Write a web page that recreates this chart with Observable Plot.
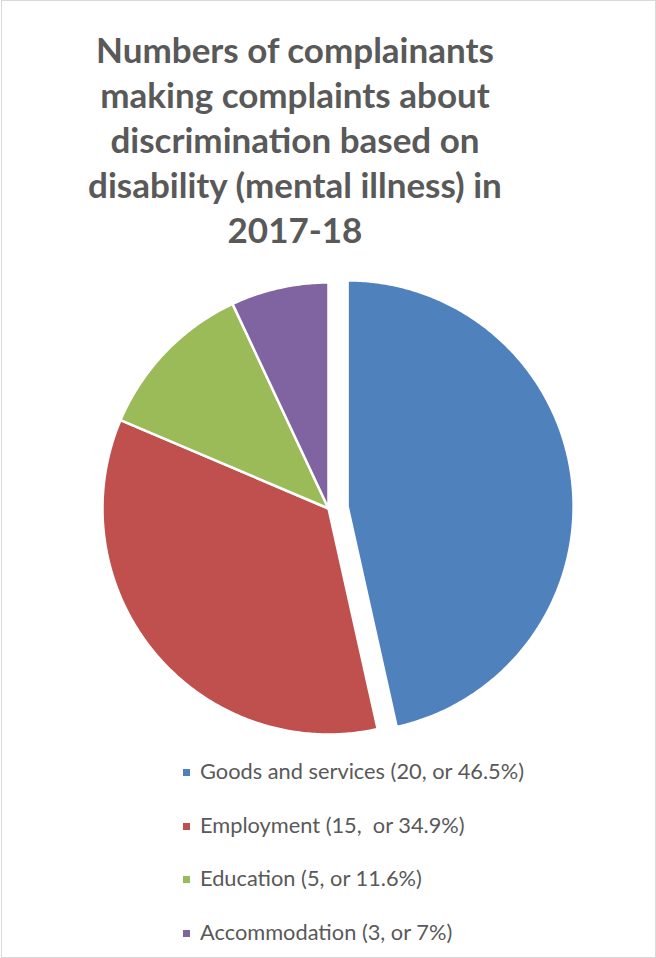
<!DOCTYPE html>
<html>
<head>
<meta charset="utf-8">
<script src="https://cdn.jsdelivr.net/npm/d3@7"></script>
<script src="https://cdn.jsdelivr.net/npm/@observablehq/plot@0.6"></script>
<style>
  html, body { margin: 0; padding: 0; background: #fff; }
  #frame { position: absolute; left: 1px; top: 0px; width: 653px; height: 956px; border: 1px solid #d9d9d9; }
  #title { position: absolute; left: 0; top: 27px; width: 590px; text-align: center;
    font-family: Lato, "Open Sans", sans-serif; font-weight: bold; font-size: 35px; line-height: 45px; color: #595959; }
  #chart { position: absolute; left: 0; top: 270px; }
  #legend { position: absolute; left: 183px; top: 757px; font-family: Lato, "Open Sans", sans-serif; font-size: 21.8px; color: #595959; }
  .item { height: 53.5px; display: flex; align-items: flex-start; white-space: pre; line-height: 28px; }
  .sw { width: 7px; height: 7px; margin-right: 10px; margin-top: 12px; flex: none; }
</style>
</head>
<body>
<div id="frame"></div>
<div id="title"></div>
<div id="chart"></div>
<div id="legend"></div>
<script>
const titleLines = ["Numbers of complainants", "making complaints about", "discrimination based on", "disability (mental illness) in", "2017-18"];
const categories = ["Goods and services", "Employment", "Education", "Accommodation"];
const counts = [20, 15, 5, 3];
const legendLabels = ["Goods and services (20, or 46.5%)", "Employment (15,  or 34.9%)", "Education (5, or 11.6%)", "Accommodation (3, or 7%)"];
const colors = ["#4f81bd", "#c0504d", "#9bbb59", "#8064a2"];
const explode = [0.085, 0, 0, 0];

document.getElementById("title").innerHTML = titleLines.join("<br>");

const arcs = d3.pie().sort(null)(counts);
const pts = [];
arcs.forEach((a, i) => {
  const mid = (a.startAngle + a.endAngle) / 2;
  const ox = explode[i] * Math.sin(mid), oy = explode[i] * Math.cos(mid);
  const name = categories[i];
  pts.push({name, x: ox, y: oy});
  const n = Math.max(8, Math.ceil((a.endAngle - a.startAngle) / 0.01));
  for (let k = 0; k <= n; k++) {
    const t = a.startAngle + (a.endAngle - a.startAngle) * k / n;
    pts.push({name, x: ox + Math.sin(t), y: oy + Math.cos(t)});
  }
  pts.push({name, x: ox, y: oy});
});

const W = 656, H = 480, R = 226, cx = 328, cy = 238;
const chart = Plot.plot({
  width: W, height: H, margin: 0,
  x: {domain: [-cx / R, (W - cx) / R], axis: null},
  y: {domain: [-(H - cy) / R, cy / R], axis: null},
  color: {domain: categories, range: colors},
  marks: [
    Plot.line(pts, {x: "x", y: "y", z: "name", fill: "name", stroke: "white", strokeWidth: 2.5, strokeLinejoin: "round", curve: "linear"})
  ]
});
document.getElementById("chart").appendChild(chart);

const legend = document.getElementById("legend");
legendLabels.forEach((lab, i) => {
  const row = document.createElement("div");
  row.className = "item";
  const sw = document.createElement("span");
  sw.className = "sw"; sw.style.background = colors[i];
  const tx = document.createElement("span");
  tx.textContent = lab;
  row.appendChild(sw); row.appendChild(tx);
  legend.appendChild(row);
});
</script>
</body>
</html>
